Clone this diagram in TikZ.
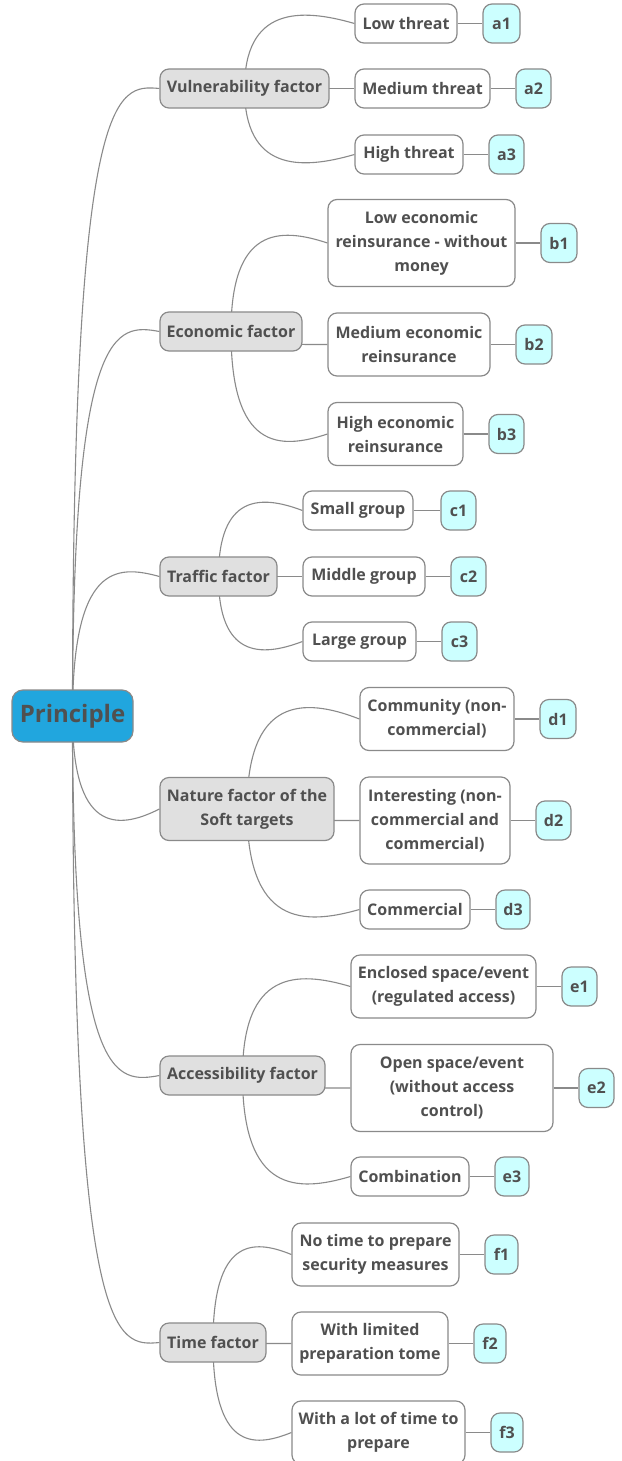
\documentclass[tikz,border=0pt]{standalone}
\usepackage{fontspec}
\setmainfont{Open Sans}
\usetikzlibrary{calc,backgrounds}
\definecolor{txt}{HTML}{505050}
\definecolor{edge}{HTML}{8A8A8A}
\definecolor{rootblue}{HTML}{21A6DE}
\definecolor{lone}{HTML}{E0E0E0}
\definecolor{lthree}{HTML}{CCFFFF}
\tikzset{
  box/.style={draw=edge, line width=1.2pt, rounded corners=9pt, align=center,
    text=txt, font=\fontsize{16}{24}\selectfont\bfseries, inner xsep=2pt, inner ysep=3pt,
    minimum height=39pt},
  rootbox/.style={box, fill=rootblue, rounded corners=11pt, font=\fontsize{24}{28}\selectfont\bfseries,
    minimum height=52pt, minimum width=121pt},
  lonebox/.style={box, fill=lone},
  ltwobox/.style={box, fill=white},
  lthreebox/.style={box, fill=lthree},
  twol/.style={minimum height=63pt},
  threel/.style={minimum height=87pt},
  conn/.style={draw=edge, line width=1.1pt},
}
\newcommand\brc[3]{%
  \draw[conn] let \p1=(#1.center), \p2=(#2.west) in
    (\p1) .. controls (\x1,\y2+#3) and ({0.5*\x1+0.5*\x2},\y2+#3) .. (\p2);}
\newcommand\lnk[2]{\draw[conn] (#1.east) -- (#2.west);}
\begin{document}
\begin{tikzpicture}[x=1pt,y=-1pt]
\useasboundingbox (0,0) rectangle (621,1461);

% root
\node[rootbox] (P) at (72.5,716) {Principle};

% level 1
\node[lonebox, minimum width=169pt] (V) at (244.5,88.5) {Vulnerability factor};
\node[lonebox, minimum width=142pt] (E) at (231,331.5) {Economic factor};
\node[lonebox, minimum width=117pt] (T) at (218.5,576.5) {Traffic factor};
\node[lonebox, twol, minimum width=174pt] (N) at (247,809) {Nature factor of the\\Soft targets};
\node[lonebox, minimum width=165pt] (A) at (242.5,1075.5) {Accessibility factor};
\node[lonebox, minimum width=106pt] (F) at (213,1342.5) {Time factor};

% level 2
\node[ltwobox, minimum width=102pt] (V1) at (406,23.5) {Low threat};
\node[ltwobox, minimum width=135pt] (V2) at (422.5,88.5) {Medium threat};
\node[ltwobox, minimum width=108pt] (V3) at (409,154.5) {High threat};

\node[ltwobox, threel, minimum width=187pt] (E1) at (421.5,243) {Low economic\\reinsurance - without\\money};
\node[ltwobox, twol, minimum width=162pt] (E2) at (409,344.5) {Medium economic\\reinsurance};
\node[ltwobox, twol, minimum width=135pt] (E3) at (395.5,434) {High economic\\reinsurance};

\node[ltwobox, minimum width=110pt] (T1) at (358,510.5) {Small group};
\node[ltwobox, minimum width=122pt] (T2) at (364,576.5) {Middle group};
\node[ltwobox, minimum width=113pt] (T3) at (359.5,641.5) {Large group};

\node[ltwobox, twol, minimum width=154pt] (N1) at (437,719) {Community (non-\\commercial)};
\node[ltwobox, threel, minimum width=150pt] (N2) at (435,820.5) {Interesting (non-\\commercial and\\commercial)};
\node[ltwobox, minimum width=110pt] (N3) at (415,909.5) {Commercial};

\node[ltwobox, twol, minimum width=185pt] (A1) at (443.5,986.5) {Enclosed space/event\\(regulated access)};
\node[ltwobox, threel, minimum width=202pt] (A2) at (452,1088) {Open space/event\\(without access\\control)};
\node[ltwobox, minimum width=118pt] (A3) at (410,1176.5) {Combination};

\node[ltwobox, twol, minimum width=167pt] (F1) at (375.5,1254.5) {No time to prepare\\security measures};
\node[ltwobox, twol, minimum width=156pt] (F2) at (370,1343.5) {With limited\\preparation tome};
\node[ltwobox, twol, minimum width=173pt] (F3) at (378.5,1432.5) {With a lot of time to\\prepare};

% level 3
\node[lthreebox, minimum width=37pt] (a1) at (501.5,23.5) {a1};
\node[lthreebox, minimum width=35pt] (a2) at (533.5,88.5) {a2};
\node[lthreebox, minimum width=35pt] (a3) at (506.5,154.5) {a3};
\node[lthreebox, minimum width=36pt] (b1) at (559,243) {b1};
\node[lthreebox, minimum width=36pt] (b2) at (534,344.5) {b2};
\node[lthreebox, minimum width=35pt] (b3) at (506.5,434) {b3};
\node[lthreebox, minimum width=35pt] (c1) at (458.5,510.5) {c1};
\node[lthreebox, minimum width=35pt] (c2) at (468.5,576.5) {c2};
\node[lthreebox, minimum width=35pt] (c3) at (459.5,641.5) {c3};
\node[lthreebox, minimum width=36pt] (d1) at (558,719) {d1};
\node[lthreebox, minimum width=35pt] (d2) at (553.5,820.5) {d2};
\node[lthreebox, minimum width=34pt] (d3) at (513,909.5) {d3};
\node[lthreebox, minimum width=35pt] (e1) at (579.5,986.5) {e1};
\node[lthreebox, minimum width=35pt] (e2) at (596.5,1088) {e2};
\node[lthreebox, minimum width=34pt] (e3) at (512,1176.5) {e3};
\node[lthreebox, minimum width=33pt] (f1) at (501.5,1254.5) {f1};
\node[lthreebox, minimum width=32pt] (f2) at (490,1343.5) {f2};
\node[lthreebox, minimum width=32pt] (f3) at (507,1432.5) {f3};

\begin{scope}[on background layer]
  \fill[white] (0,0) rectangle (621,1461);
  % root to level 1
  \brc{P}{V}{4pt}
  \brc{P}{E}{8pt}
  \brc{P}{T}{12pt}
  \brc{P}{N}{-22pt}
  \brc{P}{A}{-8pt}
  \brc{P}{F}{-4pt}
  % level 1 to level 2
  \brc{V}{V1}{16pt} \brc{V}{V2}{0pt} \brc{V}{V3}{-16pt}
  \brc{E}{E1}{16pt} \brc{E}{E2}{0pt} \brc{E}{E3}{-16pt}
  \brc{T}{T1}{16pt} \brc{T}{T2}{0pt} \brc{T}{T3}{-16pt}
  \brc{N}{N1}{22pt} \brc{N}{N2}{0pt} \brc{N}{N3}{-16pt}
  \brc{A}{A1}{16pt} \brc{A}{A2}{0pt} \brc{A}{A3}{-16pt}
  \brc{F}{F1}{16pt} \brc{F}{F2}{0pt} \brc{F}{F3}{-16pt}
  % level 2 to level 3
  \lnk{V1}{a1} \lnk{V2}{a2} \lnk{V3}{a3}
  \lnk{E1}{b1} \lnk{E2}{b2} \lnk{E3}{b3}
  \lnk{T1}{c1} \lnk{T2}{c2} \lnk{T3}{c3}
  \lnk{N1}{d1} \lnk{N2}{d2} \lnk{N3}{d3}
  \lnk{A1}{e1} \lnk{A2}{e2} \lnk{A3}{e3}
  \lnk{F1}{f1} \lnk{F2}{f2} \lnk{F3}{f3}
\end{scope}
\end{tikzpicture}
\end{document}
